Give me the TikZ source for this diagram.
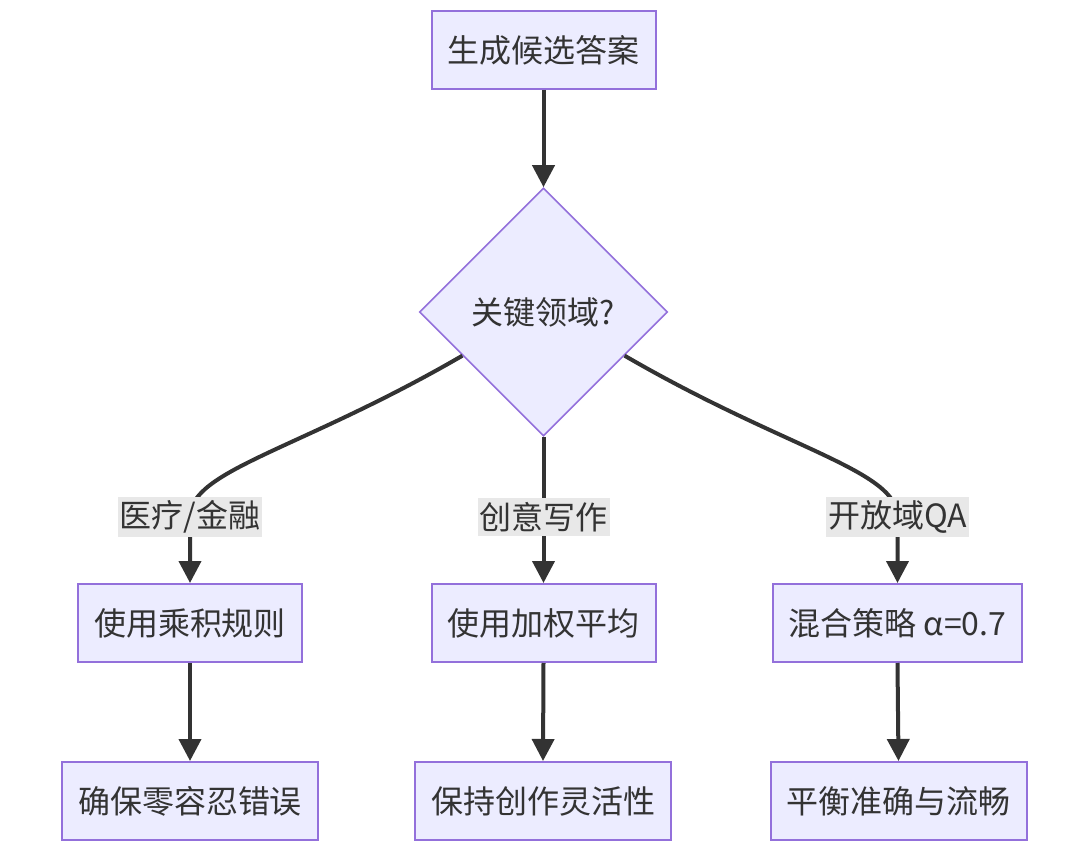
\documentclass[tikz,border=0pt]{standalone}
\usepackage{fontspec}
\setmainfont{Noto Sans CJK SC}
\usetikzlibrary{arrows.meta,shapes.geometric,calc}
\definecolor{boxfill}{HTML}{ECECFF}
\definecolor{boxline}{HTML}{9370DB}
\definecolor{ink}{HTML}{333333}
\definecolor{lblfill}{HTML}{E8E8E8}

\begin{document}
\begin{tikzpicture}[x=0.5pt,y=-0.5pt]
 \tikzstyle{box}=[draw=boxline,fill=boxfill,line width=1pt,text=ink,font=\fontsize{16}{20}\selectfont,minimum height=39pt,inner xsep=8pt]
 \tikzstyle{choice}=[diamond,aspect=1,draw=boxline,fill=boxfill,line width=0.8pt,text=ink,font=\fontsize{16}{20}\selectfont,minimum width=124pt,minimum height=124pt,inner sep=0pt]
 \tikzstyle{lbl}=[fill=lblfill,text=ink,font=\fontsize{16}{20}\selectfont,inner xsep=1pt,inner ysep=2pt]
 \tikzstyle{flow}=[draw=ink,line width=2pt,-{Triangle[length=11pt,width=11pt]}]
 \useasboundingbox (0,0) rectangle (1072,856);
  \node[box] at (543.5,50) (GEN) {生成候选答案};
  \node[choice] at (543.5,312) (KEY) {关键领域?};
  \node[box] at (190,623) (PROD) {使用乘积规则};
  \node[box] at (543.5,623) (WAVG) {使用加权平均};
  \node[box] at (897.5,623) (MIX) {混合策略 α=0.7};
  \node[box] at (190,801) (ZERO) {确保零容忍错误};
  \node[box] at (543,801) (FLEX) {保持创作灵活性};
  \node[box] at (898.5,801) (BAL) {平衡准确与流畅};
  \coordinate (LM) at (190,517);
  \coordinate (CM) at (543.5,517);
  \coordinate (RM) at (897.5,517);
  \draw[flow] (GEN.south) -- (KEY.north);
  \draw[flow] ($(KEY.west)!0.35!(KEY.south)$) .. controls (300,450) and (190,470) .. (LM) -- (PROD.north);
  \draw[flow] (KEY.south) -- (CM) -- (WAVG.north);
  \draw[flow] ($(KEY.east)!0.35!(KEY.south)$) .. controls (787,450) and (897.5,470) .. (RM) -- (MIX.north);
  \node[lbl] at (LM) (LMED) {医疗/金融};
  \node[lbl] at (CM) (LART) {创意写作};
  \node[lbl] at (RM) (LQA) {开放域QA};
  \draw[flow] (PROD.south) -- (ZERO.north);
  \draw[flow] (WAVG.south) -- (FLEX.north);
  \draw[flow] (MIX.south) -- (BAL.north);
\end{tikzpicture}
\end{document}
